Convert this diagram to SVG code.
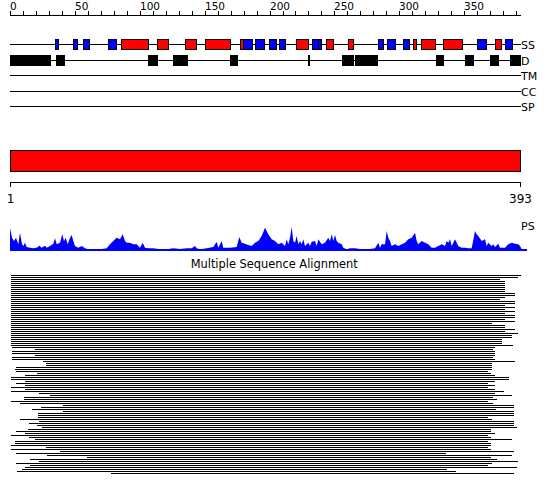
<svg xmlns="http://www.w3.org/2000/svg" width="550" height="495" viewBox="0 0 550 495">
<style>
  text { font-family: "DejaVu Sans", "Liberation Sans", sans-serif; fill: #000; }
  .lbl { font-size: 11px; }
  .num { font-size: 10.5px; }
  .ln { stroke: #000; stroke-width: 1; fill: none; }
  .h { fill: #ff0000; stroke: #000; stroke-width: 1; }
  .e { fill: #0000ff; stroke: #000; stroke-width: 1; }
  .d { fill: #000; stroke: #000; stroke-width: 1; }
</style>
<rect x="0" y="0" width="550" height="495" fill="#fff"/>

<g id="ruler">
  <path class="ln" d="M10 15.5H521"/>
  <path class="ln" d="M10.5 15V11M23.5 15V11M36.5 15V11M49.5 15V11M62.5 15V11M75.5 15V11M88.5 15V11M101.5 15V11M114.5 15V11M127.5 15V11M140.5 15V11M153.5 15V11M166.5 15V11M179.5 15V11M192.5 15V11M205.5 15V11M218.5 15V11M231.5 15V11M244.5 15V11M257.5 15V11M270.5 15V11M283.5 15V11M295.5 15V11M308.5 15V11M321.5 15V11M334.5 15V11M347.5 15V11M360.5 15V11M373.5 15V11M386.5 15V11M399.5 15V11M412.5 15V11M425.5 15V11M438.5 15V11M451.5 15V11M464.5 15V11M477.5 15V11M490.5 15V11M503.5 15V11M516.5 15V11"/>
  <text class="num" x="10" y="9.5">0</text>
  <text class="num" x="75" y="9.5">50</text>
  <text class="num" x="140" y="9.5">100</text>
  <text class="num" x="205" y="9.5">150</text>
  <text class="num" x="270" y="9.5">200</text>
  <text class="num" x="334" y="9.5">250</text>
  <text class="num" x="399" y="9.5">300</text>
  <text class="num" x="464" y="9.5">350</text>
</g>

<g id="ss-track">
  <path class="ln" d="M10 44.5H521"/>
  <rect class="e" x="55.5" y="39.5" width="3" height="10"/>
  <rect class="e" x="73.5" y="39.5" width="4" height="10"/>
  <rect class="e" x="83.5" y="39.5" width="6" height="10"/>
  <rect class="e" x="108.5" y="39.5" width="8" height="10"/>
  <rect class="h" x="121.5" y="39.5" width="27" height="10"/>
  <rect class="h" x="157.5" y="39.5" width="11" height="10"/>
  <rect class="h" x="185.5" y="39.5" width="11" height="10"/>
  <rect class="h" x="205.5" y="39.5" width="25" height="10"/>
  <rect class="h" x="240.5" y="39.5" width="3" height="10"/>
  <rect class="e" x="243.5" y="39.5" width="9" height="10"/>
  <rect class="e" x="255.5" y="39.5" width="9" height="10"/>
  <rect class="e" x="269.5" y="39.5" width="7" height="10"/>
  <rect class="e" x="279.5" y="39.5" width="6" height="10"/>
  <rect class="h" x="296.5" y="39.5" width="12" height="10"/>
  <rect class="e" x="312.5" y="39.5" width="6" height="10"/>
  <rect class="e" x="318.5" y="39.5" width="3" height="10"/>
  <rect class="h" x="326.5" y="39.5" width="7" height="10"/>
  <rect class="h" x="348.5" y="39.5" width="5" height="10"/>
  <rect class="e" x="378.5" y="39.5" width="5" height="10"/>
  <rect class="e" x="387.5" y="39.5" width="8" height="10"/>
  <rect class="e" x="403.5" y="39.5" width="6" height="10"/>
  <rect class="h" x="413.5" y="39.5" width="3" height="10"/>
  <rect class="h" x="421.5" y="39.5" width="14" height="10"/>
  <rect class="h" x="443.5" y="39.5" width="19" height="10"/>
  <rect class="e" x="477.5" y="39.5" width="9" height="10"/>
  <rect class="h" x="495.5" y="39.5" width="6" height="10"/>
  <rect class="e" x="505.5" y="39.5" width="7" height="10"/>
  <text class="lbl" x="521" y="48.5">SS</text>
</g>

<g id="d-track">
  <path class="ln" d="M10 60.5H521"/>
  <rect class="d" x="10.5" y="55.5" width="40" height="10"/>
  <rect class="d" x="56.5" y="55.5" width="8" height="10"/>
  <rect class="d" x="148.5" y="55.5" width="9" height="10"/>
  <rect class="d" x="173.5" y="55.5" width="14" height="10"/>
  <rect class="d" x="230.5" y="55.5" width="7" height="10"/>
  <rect class="d" x="308.5" y="55.5" width="1" height="10"/>
  <rect class="d" x="342.5" y="55.5" width="9" height="10"/>
  <rect class="d" x="352.5" y="55.5" width="1" height="10"/>
  <rect class="d" x="355.5" y="55.5" width="22" height="10"/>
  <rect class="d" x="436.5" y="55.5" width="7" height="10"/>
  <rect class="d" x="465.5" y="55.5" width="8" height="10"/>
  <rect class="d" x="490.5" y="55.5" width="8" height="10"/>
  <rect class="d" x="510.5" y="55.5" width="10" height="10"/>
  <text class="lbl" x="521" y="64.5">D</text>
</g>

<g id="tm-track">
  <path class="ln" d="M10 75.5H521"/>
  <text class="lbl" x="521" y="79.5">TM</text>
</g>
<g id="cc-track">
  <path class="ln" d="M10 91.5H521"/>
  <text class="lbl" x="521" y="95.5">CC</text>
</g>
<g id="sp-track">
  <path class="ln" d="M10 106.5H521"/>
  <text class="lbl" x="521" y="110.5">SP</text>
</g>

<g id="domain-bar">
  <rect class="h" x="10.5" y="150.5" width="510" height="21"/>
</g>

<g id="scale">
  <path class="ln" d="M10.5 182.5H520.5M10.5 182V187M520.5 182V187"/>
  <text x="10.5" y="203" font-size="12" text-anchor="middle">1</text>
  <text x="520.5" y="203" font-size="12" text-anchor="middle">393</text>
</g>

<g id="ps-plot">
  <rect x="10" y="249" width="517" height="2" fill="#0000ff"/>
  <polygon fill="#0000ff" points="10,251 10,228 12,237.7 14,241 16,237.7 18.3,244.3 20,232.7 22,244.3 23.3,246 25,242.7 26.7,247 30,247.7 33.3,248.3 36.7,247.7 39.3,245.7 41.7,247.7 45,245.7 46.7,247.7 50,246 53.3,243.7 55,238.3 56.7,244.3 60,242.7 62.3,234.3 64,241 65.7,237.7 67.7,244.3 70,237.7 71.7,235 73.3,241 75,246 78.3,247.7 81.7,246 85,248.3 88.3,249.3 93.3,249.3 100,249.3 106.7,248.3 110,244.3 113.3,241 116.7,237.7 120,239.3 122.7,234.3 125,241 126.7,242.7 130,242.7 133.3,244.3 136.7,244.3 140,247.7 142.7,242.7 145,247.7 148.3,248.3 153.3,248.3 160,249.3 166.7,249.3 173.3,248.3 180,249 186.7,248.3 191.7,248.3 195,246 196.7,248.3 200,249.3 206.7,248.3 213.3,247 216.7,241.7 218.3,247.7 221.7,241 223.3,247.7 230,247.7 236.7,247 239.3,237 241.7,242.7 245,243.7 248.3,245 251.7,246 255,242.7 258.3,241 261.7,236 265,227.7 268.3,234.3 271.7,239.3 275,241 278.3,244.3 281.7,242.7 285,246 286.7,239.3 288.3,244.3 290,237.7 291.7,227 293.3,241 295,242.7 296.7,236 298.3,244.3 300,241 301.7,244.3 303.3,239.3 305,246 308.3,242.7 310,246 311.7,241.7 315,241 316.7,246 318.3,239.3 321.7,244.3 325,242.7 328.3,237.7 330,241 331.7,234.3 333.3,241 335,235 336.7,241 338.3,242.7 341.7,244.3 343.3,247.7 346.7,249.3 350,248.3 355,248.3 361.7,249.3 368.3,249.3 375,248.3 378.3,242.7 380,247.7 381.7,244.3 385,244.3 386.7,231 388.3,237.7 390,241 391.7,246 395,244.3 398.3,246 401.7,244.3 405,242.7 408.3,239.3 411.7,237.7 415,232.7 416.7,241 418.3,244.3 421.7,241 425,242.7 428.3,244.3 430,246 431.7,247.7 435,247.7 438.3,246 441.7,244.3 445,246 446.7,241 448.3,242.7 450,239.3 451.7,246 455,239.3 456.7,242.7 458.3,246 461.7,247.7 465,247.7 468.3,248.3 471.7,248.3 475,231 476.7,234.3 478.3,236 481.7,241 485,239.3 486.7,246 488.3,242.7 491.7,246 493.3,244.3 495,247 498.3,243.7 500,247.7 505,247.7 508.3,244.3 511.7,242.7 515,243.7 518.3,244.3 520,246 521.7,249.3 521.7,251"/>
  <text class="lbl" x="521" y="230">PS</text>
</g>

<g id="msa">
  <text x="274.2" y="268" font-size="11.4" text-anchor="middle">Multiple Sequence Alignment</text>
  <path class="ln" d="M11 275.5H521M11 277.5H518M11 279.5H500M11 281.5H505M11 283.5H505M11 285.5H505M11 287.5H505M11 289.5H505M11 291.5H505M11 293.5H515M11 295.5H515M11 297.5H505M11 299.5H500M11 301.5H515M11 303.5H515M11 305.5H505M11 307.5H515M11 309.5H505M11 311.5H515M11 313.5H505M11 315.5H515M11 317.5H515M11 319.5H505M11 321.5H515M11 323.5H492M11 325.5H505M11 327.5H505M11 329.5H515M11 331.5H505M11 333.5H518M11 335.5H512M11 337.5H512M11 339.5H502M11 341.5H502M11 343.5H502M11 345.5H513M12 347.5H495M35 349.5H493M12 351.5H495M12 353.5H495M35 355.5H495M12 357.5H493M12 359.5H495M43 361.5H515M46 363.5H492M46 365.5H492M16 367.5H492M15 369.5H492M16 371.5H488M37 373.5H491M25 375.5H495M11 377.5H509M11 379.5H509M25 381.5H495M16 383.5H488M25 385.5H495M11 387.5H488M25 389.5H495M11 391.5H504M39 393.5H495M50 395.5H512M24 397.5H493M24 399.5H497M11 401.5H488M20 403.5H493M63 405.5H514M41 407.5H514M32 409.5H496M63 411.5H514M38 413.5H514M38 415.5H514M38 417.5H488M20 419.5H492M39 421.5H514M29 423.5H514M37 425.5H514M42 427.5H517M28 429.5H491M16 431.5H491M25 433.5H495M11 435.5H488M29 437.5H491M35 439.5H512M15 441.5H488M15 443.5H491M11 445.5H491M46 447.5H488M11 449.5H491M60 451.5H514M16 453.5H446M47 455.5H512M87 457.5H491M30 459.5H497M39 461.5H518M16 463.5H492M30 465.5H488M25 467.5H517M22 469.5H447M17 471.5H456M111 473.5H514"/>
</g>
</svg>
